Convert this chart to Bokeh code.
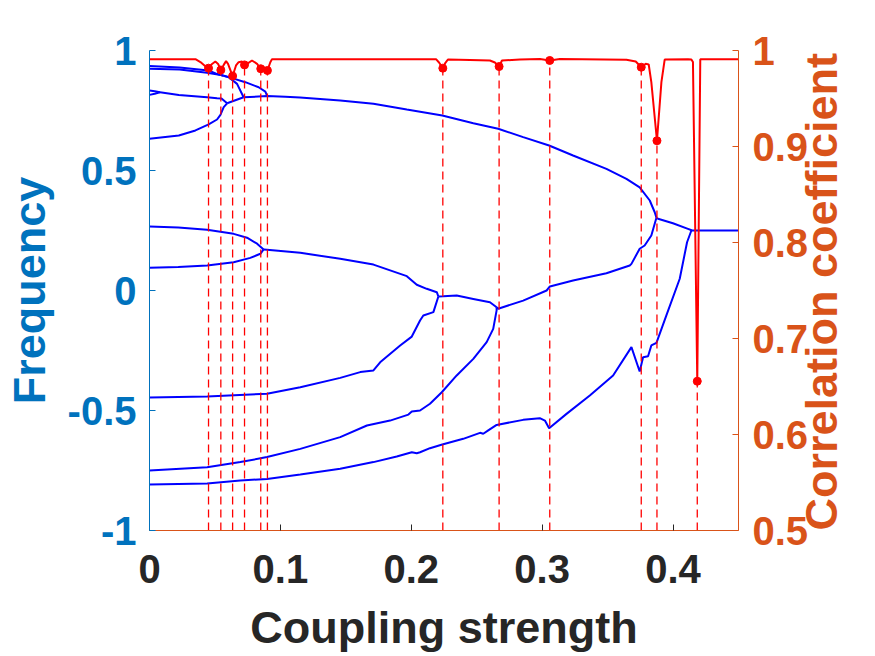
import math
from bokeh.plotting import figure
from bokeh.models import Range1d, LinearAxis, FixedTicker
from bokeh.embed import file_html
from bokeh.resources import INLINE

# ---------------- data ----------------
x_ticks = [0, 0.1, 0.2, 0.3, 0.4]
x_tick_labels = ["0", "0.1", "0.2", "0.3", "0.4"]
freq_ticks = [-1, -0.5, 0, 0.5, 1]
freq_tick_labels = ["-1", "-0.5", "0", "0.5", "1"]
corr_ticks = [0.5, 0.6, 0.7, 0.8, 0.9, 1.0]
corr_tick_labels = ["0.5", "0.6", "0.7", "0.8", "0.9", "1"]

# frequency branches (Coupling strength, Frequency)
top1_x = [0, 0.023, 0.045, 0.051, 0.0566]
top1_y = [0.935, 0.929, 0.917, 0.903, 0.895]
top2_x = [0, 0.023, 0.044, 0.0545, 0.0566]
top2_y = [0.924, 0.921, 0.907, 0.898, 0.895]
gentle_x = [0.0566, 0.063, 0.0732, 0.0834, 0.0885, 0.0898]
gentle_y = [0.895, 0.885, 0.868, 0.847, 0.829, 0.8125]
steep_x = [0.0566, 0.0605, 0.0669, 0.0719]
steep_y = [0.895, 0.889, 0.861, 0.805]
loopup_x = [0, 0.004, 0.008]
loopup_y = [0.833, 0.83, 0.826]
looplo_x = [0, 0.004, 0.008]
looplo_y = [0.815, 0.82, 0.826]
mid_x = [0.008, 0.0224, 0.044, 0.0516, 0.055, 0.0593]
mid_y = [0.826, 0.815, 0.805, 0.801, 0.8, 0.78]
rise_x = [0, 0.0224, 0.0351, 0.0452, 0.0516, 0.0542, 0.0567, 0.0593]
rise_y = [0.632, 0.646, 0.667, 0.692, 0.7125, 0.732, 0.764, 0.78]
link_x = [0.0593, 0.0719]
link_y = [0.78, 0.805]
upper_x = [0.0719, 0.0898, 0.1037, 0.115, 0.1457, 0.1711, 0.1966, 0.2237, 0.2474,
           0.2664, 0.2855, 0.3053, 0.3236, 0.3491, 0.3644, 0.3745, 0.3822, 0.386, 0.3873]
upper_y = [0.805, 0.81, 0.807, 0.804, 0.792, 0.778, 0.754, 0.729, 0.697,
           0.674, 0.639, 0.604, 0.5625, 0.507, 0.465, 0.43, 0.375, 0.326, 0.303]
sync_x = [0.3873, 0.3885, 0.3999, 0.4114, 0.4147, 0.45]
sync_y = [0.303, 0.299, 0.28, 0.257, 0.25, 0.25]
aup_x = [0, 0.022, 0.044, 0.0643, 0.0745, 0.0822, 0.0872]
aup_y = [0.267, 0.262, 0.253, 0.236, 0.22, 0.195, 0.171]
alo_x = [0, 0.022, 0.044, 0.0643, 0.077, 0.0847, 0.0872]
alo_y = [0.095, 0.098, 0.104, 0.118, 0.136, 0.153, 0.171]
b_x = [0.0872, 0.0898, 0.1152, 0.1457, 0.1711, 0.1966, 0.2042, 0.2118, 0.2195, 0.2207]
b_y = [0.171, 0.17, 0.157, 0.132, 0.108, 0.0597, 0.024, 0.007, -0.007, -0.025]
c_x = [0, 0.044, 0.0898, 0.1152, 0.1457, 0.161, 0.1711, 0.1762, 0.1915, 0.2004,
       0.2067, 0.2092, 0.2169, 0.2207]
c_y = [-0.446, -0.442, -0.43, -0.403, -0.364, -0.34, -0.333, -0.299, -0.229, -0.192,
       -0.125, -0.104, -0.09, -0.025]
d_x = [0.2207, 0.2245, 0.2347, 0.2474, 0.2601, 0.2652]
d_y = [-0.025, -0.024, -0.021, -0.035, -0.049, -0.07]
e_x = [0, 0.044, 0.0694, 0.0898, 0.1152, 0.1457, 0.1661, 0.1838, 0.1978, 0.2004,
       0.2067, 0.2143, 0.2233, 0.2347, 0.2474, 0.2576, 0.2626, 0.2652, 0.2652]
e_y = [-0.75, -0.736, -0.715, -0.694, -0.66, -0.611, -0.5625, -0.542, -0.517, -0.504,
       -0.5, -0.472, -0.424, -0.354, -0.285, -0.215, -0.16, -0.083, -0.07]
g_x = [0.2652, 0.2664, 0.2855, 0.3034, 0.3059, 0.3236, 0.3491, 0.3669, 0.3682,
       0.3745, 0.3783, 0.3834, 0.3873]
g_y = [-0.07, -0.076, -0.042, 0.0, 0.017, 0.042, 0.072, 0.104, 0.111,
       0.174, 0.1875, 0.229, 0.303]
h_x = [0, 0.044, 0.0694, 0.0898, 0.1152, 0.1457, 0.1711, 0.1889, 0.2004, 0.2042,
       0.2067, 0.2143, 0.2237, 0.2397, 0.2525, 0.255, 0.2588, 0.2652, 0.2855, 0.2982,
       0.3021, 0.3053, 0.3186, 0.3364, 0.3542, 0.3682, 0.3745, 0.3771, 0.3809, 0.3834,
       0.3873, 0.3949, 0.4051, 0.4107, 0.414]
h_y = [-0.808, -0.804, -0.792, -0.785, -0.767, -0.743, -0.715, -0.692, -0.674, -0.678,
       -0.674, -0.657, -0.642, -0.618, -0.593, -0.597, -0.583, -0.56, -0.539, -0.532,
       -0.542, -0.574, -0.514, -0.4375, -0.354, -0.236, -0.3375, -0.278, -0.274, -0.229,
       -0.218, -0.104, 0.049, 0.201, 0.25]

# correlation coefficient
corr_x = [0, 0.0351, 0.0389, 0.044, 0.0451, 0.0478, 0.0503, 0.0524, 0.0545, 0.0567,
          0.0585, 0.06, 0.0635, 0.0661, 0.0681, 0.0707, 0.0726, 0.0745, 0.0783, 0.0822,
          0.085, 0.0872, 0.0901, 0.0923, 0.0936, 0.1457, 0.2189, 0.2212, 0.2241, 0.2258,
          0.228, 0.2449, 0.2601, 0.2639, 0.2671, 0.2693, 0.283, 0.2983, 0.3058, 0.3135,
          0.3644, 0.3715, 0.3757, 0.3791, 0.3814, 0.3834, 0.3877, 0.3911, 0.3936, 0.4114,
          0.414, 0.4152, 0.4185, 0.4208, 0.45]
corr_y = [0.991, 0.991, 0.988, 0.982, 0.9816, 0.986, 0.9885, 0.986, 0.9797, 0.985,
          0.9889, 0.986, 0.9734, 0.9844, 0.9878, 0.9885, 0.985, 0.9861, 0.9896, 0.9861,
          0.981, 0.9826, 0.9792, 0.9878, 0.991, 0.991, 0.991, 0.9875, 0.9816, 0.9865,
          0.9906, 0.9901, 0.9896, 0.9875, 0.9833, 0.9896, 0.9906, 0.9911, 0.9896, 0.9911,
          0.9903, 0.9885, 0.9826, 0.9861, 0.9854, 0.967, 0.906, 0.967, 0.9906, 0.991,
          0.9906, 0.988, 0.6555, 0.991, 0.991]
event_x = [0.0451, 0.0545, 0.0635, 0.0726, 0.085, 0.0901, 0.2241, 0.2671, 0.3058,
           0.3757, 0.3877, 0.4185]
event_c = [0.9816, 0.9797, 0.9734, 0.985, 0.981, 0.9792, 0.9816, 0.9833, 0.9896,
           0.9826, 0.906, 0.6555]

branches_x = [top1_x, top2_x, gentle_x, steep_x, loopup_x, looplo_x, mid_x, rise_x,
              link_x, upper_x, sync_x, aup_x, alo_x, b_x, c_x, d_x, e_x, g_x, h_x]
branches_y = [top1_y, top2_y, gentle_y, steep_y, loopup_y, looplo_y, mid_y, rise_y,
              link_y, upper_y, sync_y, aup_y, alo_y, b_y, c_y, d_y, e_y, g_y, h_y]

# ---------------- styling ----------------
BLUE_AX = "#0072BD"
ORANGE = "#D95319"
DARK = "#262626"
FONT = "Liberation Sans"

p = figure(width=875, height=656, x_range=Range1d(0, 0.45), y_range=Range1d(-1, 1),
           output_backend="svg", toolbar_location=None,
           min_border_left=149, min_border_right=136, min_border_top=50,
           min_border_bottom=126, background_fill_color="white")
p.outline_line_color = None
p.grid.visible = False
p.extra_y_ranges = {"corr": Range1d(0.5, 1.0)}

def style_axis(ax, color, label_color, standoff, title, title_standoff):
    ax.axis_line_color = color
    ax.axis_line_width = 1
    ax.major_tick_line_color = color
    ax.major_tick_in = 6
    ax.major_tick_out = 0
    ax.minor_tick_in = 0
    ax.minor_tick_out = 0
    ax.major_label_text_font = FONT
    ax.major_label_text_font_style = "bold"
    ax.major_label_text_font_size = "40px"
    ax.major_label_text_color = label_color
    ax.major_label_standoff = standoff
    ax.axis_label = title
    ax.axis_label_text_font = FONT
    ax.axis_label_text_font_style = "bold"
    ax.axis_label_text_font_size = "45px"
    ax.axis_label_text_color = label_color
    ax.axis_label_standoff = title_standoff

xa = p.xaxis[0]
xa.ticker = FixedTicker(ticks=x_ticks)
xa.major_label_overrides = dict(zip(x_ticks, x_tick_labels))
style_axis(xa, ORANGE, DARK, 24, "Coupling strength", 16)
xa.major_tick_line_color = DARK

ya = p.yaxis[0]
ya.ticker = FixedTicker(ticks=freq_ticks)
ya.major_label_overrides = dict(zip(freq_ticks, freq_tick_labels))
style_axis(ya, BLUE_AX, BLUE_AX, 13, "Frequency", 10)

ra = LinearAxis(y_range_name="corr")
ra.ticker = FixedTicker(ticks=corr_ticks)
ra.major_label_overrides = dict(zip(corr_ticks, corr_tick_labels))
style_axis(ra, ORANGE, ORANGE, 14, "Correlation coefficient", 10)
ra.axis_label_orientation = math.pi / 2
ra.axis_label_text_baseline = "top"
if "axis_label_align" in LinearAxis.properties():
    ra.axis_label_align = "start"
p.add_layout(ra, "right")

# blue frequency branches
for bx, by in zip(branches_x, branches_y):
    p.line(bx, by, line_color="#0000FF", line_width=2)

# dashed markers and correlation curve
p.segment(x0=event_x, y0=[0.5] * len(event_x), x1=event_x, y1=event_c,
          y_range_name="corr", line_color="#FF0000", line_width=1.3, line_dash="8 5")
p.line(corr_x, corr_y, y_range_name="corr", line_color="#FF0000", line_width=2)
p.scatter(event_x, event_c, y_range_name="corr", size=8, color="#FF0000")

open("out.html", "w").write(file_html(p, INLINE))
